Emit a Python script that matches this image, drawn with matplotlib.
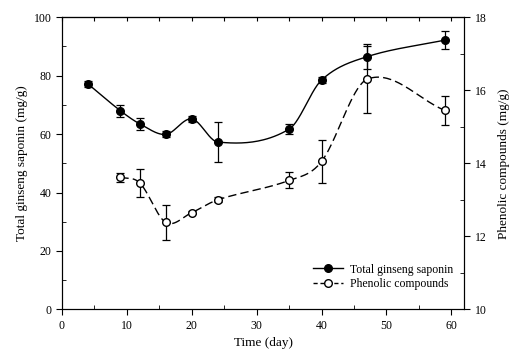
import numpy as np
import matplotlib.pyplot as plt
from matplotlib.ticker import MultipleLocator

plt.rcParams['font.family'] = ['Liberation Serif', 'DejaVu Serif']

# values
sap_day = [4, 9, 12, 16, 20, 24, 35, 40, 47, 59]
saponin = [77.2, 68.0, 63.5, 59.9, 65.2, 57.3, 61.7, 78.5, 86.5, 92.2]
saponin_err = [1.0, 2.0, 2.0, 1.0, 1.0, 7.0, 1.7, 1.0, 4.2, 3.0]

phe_day = [9, 12, 16, 20, 24, 35, 40, 47, 59]
phenolic = [13.62, 13.46, 12.38, 12.65, 13.0, 13.53, 14.05, 16.30, 15.45]
phenolic_err = [0.12, 0.39, 0.48, 0.05, 0.07, 0.22, 0.6, 0.92, 0.4]


def smooth_line(x, y, n=40):
    # cardinal (Catmull-Rom style) Hermite curve through the points
    x = np.asarray(x, float)
    y = np.asarray(y, float)
    t = np.zeros(len(x))
    t[1:-1] = (y[2:] - y[:-2]) / (x[2:] - x[:-2])
    t[0] = (y[1] - y[0]) / (x[1] - x[0])
    t[-1] = (y[-1] - y[-2]) / (x[-1] - x[-2])
    xs_all, ys_all = [], []
    for i in range(len(x) - 1):
        h = x[i + 1] - x[i]
        s = np.linspace(0, 1, n)
        h00 = 2 * s ** 3 - 3 * s ** 2 + 1
        h10 = s ** 3 - 2 * s ** 2 + s
        h01 = -2 * s ** 3 + 3 * s ** 2
        h11 = s ** 3 - s ** 2
        xs_all.append(x[i] + s * h)
        ys_all.append(h00 * y[i] + h10 * h * t[i] + h01 * y[i + 1] + h11 * h * t[i + 1])
    return np.concatenate(xs_all), np.concatenate(ys_all)


fig = plt.figure(figsize=(5.11, 3.58), dpi=100)
ax = fig.add_axes([0.1213, 0.136, 0.7873, 0.8157])
ax2 = ax.twinx()

xs, ys = smooth_line(sap_day, saponin)
ax.plot(xs, ys, color='black', lw=1.0)
ax.errorbar(sap_day, saponin, yerr=saponin_err, fmt='o', color='black', ms=5.5,
            capsize=3, elinewidth=0.9, capthick=0.9, zorder=3)

xs, ys = smooth_line(phe_day, phenolic)
ax2.plot(xs, ys, color='black', lw=1.0, dashes=(6, 3))
ax2.errorbar(phe_day, phenolic, yerr=phenolic_err, fmt='o', color='black', mfc='white',
             ms=5.5, capsize=3, elinewidth=0.9, capthick=0.9, zorder=3)

# legend proxies
h1, = ax.plot([], [], '-o', color='black', ms=5.5, lw=1.0)
h2, = ax.plot([], [], 'o', color='black', mfc='white', ms=5.5, lw=1.0, ls=(0, (3, 2)))
ax.legend([h1, h2], ['Total ginseng saponin', 'Phenolic compounds'], loc='lower right',
          bbox_to_anchor=(1.0, 0.03), frameon=False, fontsize=8.5, handlelength=2.6,
          handletextpad=0.6, labelspacing=0.2)

ax.set_xlim(0, 62)
ax.set_ylim(0, 100)
ax2.set_ylim(10, 18)

ax.xaxis.set_major_locator(MultipleLocator(10))
ax.xaxis.set_minor_locator(MultipleLocator(5))
ax.yaxis.set_major_locator(MultipleLocator(20))
ax.yaxis.set_minor_locator(MultipleLocator(10))
ax2.yaxis.set_major_locator(MultipleLocator(2))
ax2.yaxis.set_minor_locator(MultipleLocator(1))

ax.tick_params(which='major', direction='out', length=4, labelsize=8.5, top=False)
ax.tick_params(which='minor', direction='in', length=3, top=False)
ax2.tick_params(which='major', direction='out', length=4, labelsize=8.5)
ax2.tick_params(which='minor', direction='in', length=3)

top = ax.secondary_xaxis('top')
top.xaxis.set_major_locator(MultipleLocator(5))
top.tick_params(direction='in', length=3, labeltop=False)

ax.set_xlabel('Time (day)', fontsize=9.5)
ax.set_ylabel('Total ginseng saponin (mg/g)', fontsize=9.5)
ax2.set_ylabel('Phenolic compounds (mg/g)', fontsize=9.5, rotation=90, labelpad=8)

fig.savefig('out.png', dpi=100)
